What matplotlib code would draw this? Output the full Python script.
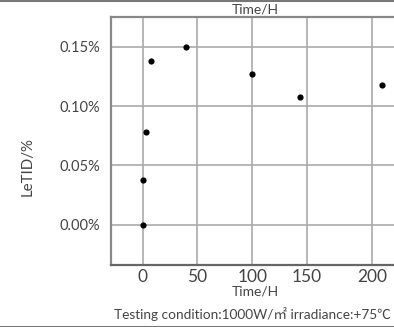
import matplotlib
matplotlib.use("Agg")
import matplotlib.pyplot as plt
import numpy as np
from matplotlib.lines import Line2D

plt.rcParams['font.family'] = ['Lato', 'Noto Sans CJK SC', 'DejaVu Sans']

time_h = [0, 0.3, 3, 8, 40, 100, 144, 208]
letid = [0.000, 0.038, 0.078, 0.138, 0.150, 0.127, 0.108, 0.118]
xticks = [0, 50, 100, 150, 200]
yticks = [0.00, 0.05, 0.10, 0.15]
ytick_labels = ["0.00%", "0.05%", "0.10%", "0.15%"]

W, H = 394, 327
fig = plt.figure(figsize=(W / 100, H / 100), dpi=100)

# axes: left 111px, top 17px, bottom 265px, right beyond image (~410px)
left, top, bottom, right = 111, 17, 265, 410
ax = fig.add_axes([left / W, 1 - bottom / H, (right - left) / W, (bottom - top) / H])

k = 1.186  # axis stretch beyond 150 h as in the reference
def fwd(x):
    x = np.asarray(x, dtype=float)
    return np.where(x <= 150, x, 150 + (x - 150) * k)
def inv(t):
    t = np.asarray(t, dtype=float)
    return np.where(t <= 150, t, 150 + (t - 150) / k)
ax.set_xscale('function', functions=(fwd, inv))

ax.scatter(time_h, letid, s=20, color='black', zorder=3, linewidths=0)

ax.set_xlim(-28.9, float(inv(244)))
ax.set_ylim(-0.0339, 0.1752)
ax.set_xticks(xticks)
ax.set_xticklabels([str(t) for t in xticks])
ax.set_yticks(yticks)
ax.set_yticklabels(ytick_labels)
ax.tick_params(length=0, colors='#444444')
ax.tick_params(axis='y', pad=8, labelsize=10.5)
ax.tick_params(axis='x', pad=3, labelsize=12.5)
ax.grid(True, color='#aaaaaa', linewidth=1.2)
ax.set_axisbelow(True)
for s in ['left', 'bottom', 'top', 'right']:
    ax.spines[s].set_color('#888888')
    ax.spines[s].set_linewidth(1.6)
ax.spines['bottom'].set_color('#666666')

fig.text(255 / W, 1 - 9 / H, "Time/H", ha='center', va='center', fontsize=9.9, color='#444444')
fig.text(255 / W, 1 - 292 / H, "Time/H", ha='center', va='center', fontsize=10, color='#444444')
fig.text(28 / W, 1 - 167 / H, "LeTID/%", ha='center', va='center', rotation=90, fontsize=10.8, color='#444444')
fig.text(114 / W, 1 - 314 / H, "Testing condition:1000W/\u33a1 irradiance:+75\u2103",
         ha='left', va='center', fontsize=9.85, color='#444444')

fig.add_artist(Line2D([0, 1], [1 - 0.5 / H, 1 - 0.5 / H], transform=fig.transFigure, color='#777777', linewidth=1.5))
fig.add_artist(Line2D([0, 1], [1 - 326.5 / H, 1 - 326.5 / H], transform=fig.transFigure, color='#777777', linewidth=1.5))

fig.savefig("out.png", dpi=100)
